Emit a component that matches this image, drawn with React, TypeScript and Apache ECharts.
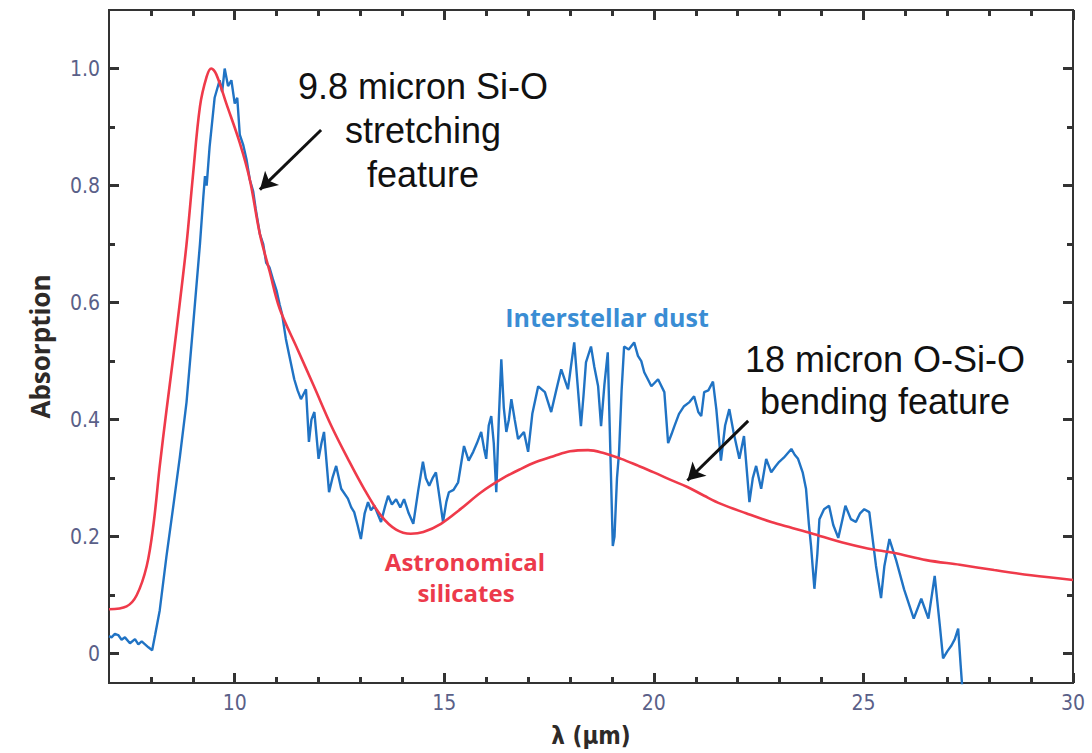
import React, { useEffect, useRef } from "react";
import * as echarts from "echarts";

// Axis ticks / labels
const xMajorTicks = [10, 15, 20, 25, 30];
const xMinorTicks = [8, 9, 11, 12, 13, 14, 16, 17, 18, 19, 21, 22, 23, 24, 26, 27, 28, 29];
const yMajorTicks = [0, 0.2, 0.4, 0.6, 0.8, 1.0];
const yMinorTicks = [0.1, 0.3, 0.5, 0.7, 0.9];

// Interstellar dust spectrum (wavelength µm, absorption)
const dustData: [number, number][] = [
  [7.0, 0.03], [7.06, 0.028], [7.14, 0.034], [7.22, 0.032], [7.3, 0.024], [7.38, 0.028], [7.5, 0.018],
  [7.62, 0.025], [7.7, 0.016], [7.78, 0.021], [7.94, 0.011], [8.03, 0.006], [8.1, 0.032],
  [8.21, 0.074], [8.37, 0.166], [8.53, 0.25], [8.69, 0.336], [8.85, 0.43], [9.0, 0.555],
  [9.17, 0.7], [9.25, 0.78], [9.29, 0.816], [9.33, 0.8], [9.4, 0.866], [9.52, 0.95],
  [9.64, 0.98], [9.7, 0.96], [9.76, 1.0], [9.84, 0.97], [9.92, 0.98], [10.0, 0.94],
  [10.06, 0.95], [10.12, 0.887], [10.2, 0.87], [10.28, 0.845], [10.36, 0.81], [10.44, 0.79],
  [10.5, 0.76], [10.6, 0.717], [10.68, 0.7], [10.75, 0.668], [10.83, 0.66], [10.91, 0.64],
  [11.0, 0.62], [11.07, 0.597], [11.13, 0.58], [11.22, 0.538], [11.3, 0.51], [11.42, 0.469],
  [11.5, 0.45], [11.58, 0.435], [11.7, 0.452], [11.77, 0.362], [11.83, 0.4], [11.9, 0.413],
  [12.0, 0.333], [12.07, 0.36], [12.13, 0.379], [12.25, 0.276], [12.33, 0.3], [12.42, 0.321],
  [12.54, 0.282], [12.7, 0.265], [12.78, 0.25], [12.85, 0.242], [12.93, 0.22], [13.01, 0.196],
  [13.1, 0.24], [13.18, 0.259], [13.25, 0.245], [13.33, 0.253], [13.49, 0.225], [13.58, 0.25],
  [13.66, 0.27], [13.75, 0.255], [13.85, 0.264], [13.95, 0.25], [14.04, 0.264], [14.15, 0.24],
  [14.26, 0.222], [14.38, 0.28], [14.49, 0.328], [14.56, 0.3], [14.64, 0.287], [14.72, 0.3],
  [14.8, 0.31], [14.9, 0.26], [14.97, 0.225], [15.05, 0.26], [15.11, 0.276], [15.22, 0.28],
  [15.33, 0.293], [15.47, 0.355], [15.58, 0.33], [15.69, 0.345], [15.78, 0.36], [15.88, 0.379],
  [15.95, 0.35], [16.0, 0.333], [16.06, 0.39], [16.12, 0.406], [16.18, 0.36], [16.24, 0.276],
  [16.3, 0.4], [16.36, 0.503], [16.42, 0.42], [16.48, 0.379], [16.54, 0.4], [16.6, 0.435],
  [16.68, 0.4], [16.76, 0.367], [16.9, 0.379], [17.0, 0.345], [17.1, 0.41], [17.24, 0.457],
  [17.4, 0.447], [17.55, 0.413], [17.67, 0.45], [17.79, 0.486], [17.95, 0.452], [18.02, 0.49],
  [18.1, 0.532], [18.18, 0.46], [18.26, 0.389], [18.32, 0.44], [18.38, 0.498], [18.5, 0.525],
  [18.58, 0.49], [18.67, 0.457], [18.74, 0.389], [18.82, 0.46], [18.9, 0.515], [18.96, 0.35],
  [19.02, 0.184], [19.06, 0.2], [19.12, 0.3], [19.17, 0.345], [19.23, 0.45], [19.29, 0.525],
  [19.4, 0.52], [19.53, 0.532], [19.62, 0.509], [19.7, 0.5], [19.77, 0.481], [19.85, 0.47],
  [19.94, 0.457], [20.1, 0.469], [20.25, 0.447], [20.34, 0.36], [20.42, 0.375], [20.49, 0.389],
  [20.6, 0.41], [20.72, 0.423], [20.85, 0.43], [20.96, 0.44], [21.06, 0.413], [21.13, 0.406],
  [21.2, 0.447], [21.3, 0.45], [21.41, 0.465], [21.49, 0.418], [21.6, 0.33], [21.7, 0.39],
  [21.8, 0.418], [21.9, 0.379], [22.04, 0.333], [22.15, 0.372], [22.28, 0.259], [22.36, 0.3],
  [22.44, 0.321], [22.56, 0.282], [22.68, 0.333], [22.8, 0.31], [22.9, 0.32], [22.99, 0.328],
  [23.1, 0.335], [23.28, 0.35], [23.36, 0.34], [23.44, 0.333], [23.55, 0.31], [23.63, 0.282],
  [23.7, 0.22], [23.75, 0.184], [23.83, 0.111], [23.9, 0.17], [23.95, 0.23], [24.06, 0.247],
  [24.18, 0.253], [24.28, 0.22], [24.4, 0.198], [24.5, 0.23], [24.57, 0.253], [24.7, 0.23],
  [24.82, 0.225], [24.92, 0.24], [25.02, 0.247], [25.14, 0.242], [25.3, 0.15], [25.42, 0.095],
  [25.5, 0.15], [25.62, 0.196], [25.78, 0.16], [25.97, 0.11], [26.2, 0.06], [26.38, 0.094],
  [26.55, 0.06], [26.7, 0.133], [26.82, 0.05], [26.9, -0.008], [27.0, 0.004], [27.1, 0.014],
  [27.18, 0.025], [27.26, 0.043], [27.32, -0.02], [27.4, -0.1],
];

// Astronomical silicates model (wavelength µm, absorption)
const silicateData: [number, number][] = [
  [7.0, 0.076], [7.42, 0.081], [7.66, 0.1], [7.9, 0.15], [8.06, 0.22], [8.21, 0.32],
  [8.37, 0.415], [8.53, 0.505], [8.69, 0.6], [8.85, 0.7], [9.0, 0.815], [9.17, 0.935],
  [9.33, 0.986], [9.44, 1.0], [9.56, 0.99], [9.8, 0.94], [10.12, 0.873], [10.36, 0.81],
  [10.6, 0.717], [10.83, 0.654], [11.07, 0.59], [11.5, 0.52], [11.89, 0.457], [12.3, 0.39],
  [12.7, 0.333], [13.1, 0.28], [13.49, 0.236], [13.85, 0.212], [14.2, 0.205], [14.5, 0.208],
  [14.92, 0.222], [15.4, 0.248], [15.88, 0.276], [16.4, 0.3], [16.83, 0.316], [17.2, 0.328],
  [17.62, 0.338], [18.0, 0.346], [18.43, 0.348], [18.8, 0.343], [19.22, 0.333], [19.6, 0.322],
  [20.0, 0.31], [20.4, 0.297], [20.8, 0.285], [21.2, 0.27], [21.6, 0.256], [22.2, 0.24],
  [22.8, 0.225], [23.3, 0.215], [23.75, 0.206], [24.5, 0.19], [25.1, 0.18], [25.74, 0.172],
  [26.5, 0.16], [27.3, 0.152], [28.12, 0.143], [29.0, 0.134], [30.0, 0.126],
];

// Annotation arrows: [tail, head] in data coordinates
const stretchArrow: [number, number][] = [[12.06, 0.895], [10.6, 0.793]];
const bendArrow: [number, number][] = [[22.25, 0.398], [20.8, 0.296]];

const AXIS_COLOR = "#333333";
const TICK_LABEL_COLOR = "#5a6088";
const TICK_FONT = '"DejaVu Sans Condensed", "Liberation Sans Narrow", "Noto Sans", sans-serif';
const X_MIN = 7, X_MAX = 30, Y_MIN = -0.05, Y_MAX = 1.1;
const W = 1092, H = 753;
const GRID = { left: 109, right: 19, top: 10, bottom: 68 };
const MAJOR_LEN = 10, MINOR_LEN = 6;
const TICK_W = 3;

function tickAxis(kind: "x" | "y", position: string, ticks: number[], len: number, showLine: boolean) {
  return {
    type: "value",
    min: kind === "x" ? X_MIN : Y_MIN,
    max: kind === "x" ? X_MAX : Y_MAX,
    position,
    axisLine: { show: showLine, onZero: false, lineStyle: { color: AXIS_COLOR, width: 2 } },
    axisTick: { show: true, inside: true, length: len, customValues: ticks, lineStyle: { color: AXIS_COLOR, width: TICK_W } },
    axisLabel: { show: false },
    splitLine: { show: false },
  } as any;
}

export default function App() {
  const ref = useRef<HTMLDivElement>(null);
  useEffect(() => {
    document.body.style.margin = "0";
    if (!ref.current) return;
    const chart = echarts.init(ref.current, null, { renderer: "svg" });

    // tick segments (data coordinates) built from the tick arrays
    const dxPerPx = (X_MAX - X_MIN) / (W - GRID.left - GRID.right);
    const dyPerPx = (Y_MAX - Y_MIN) / (H - GRID.top - GRID.bottom);
    const tickSegments: any[] = [];
    const addX = (v: number, len: number) => {
      tickSegments.push([{ coord: [v, Y_MIN] }, { coord: [v, Y_MIN + len * dyPerPx] }]);
      tickSegments.push([{ coord: [v, Y_MAX] }, { coord: [v, Y_MAX - len * dyPerPx] }]);
    };
    const addY = (v: number, len: number) => {
      tickSegments.push([{ coord: [X_MIN, v] }, { coord: [X_MIN + len * dxPerPx, v] }]);
      tickSegments.push([{ coord: [X_MAX, v] }, { coord: [X_MAX - len * dxPerPx, v] }]);
    };
    xMajorTicks.forEach((v) => addX(v, MAJOR_LEN));
    xMinorTicks.forEach((v) => addX(v, MINOR_LEN));
    yMajorTicks.forEach((v) => addY(v, MAJOR_LEN));
    yMinorTicks.forEach((v) => addY(v, MINOR_LEN));

    const mainX = tickAxis("x", "bottom", xMajorTicks, MAJOR_LEN, true);
    mainX.axisLabel = { show: true, customValues: xMajorTicks, color: TICK_LABEL_COLOR, fontSize: 21, fontFamily: TICK_FONT, margin: 9 };
    mainX.name = "\u03bb (\u00b5m)";
    mainX.nameLocation = "middle";
    mainX.nameGap = 41;
    mainX.nameTextStyle = { fontSize: 24, fontWeight: "bold", color: "#2e2a28", fontFamily: TICK_FONT };

    const mainY = tickAxis("y", "left", yMajorTicks, MAJOR_LEN, true);
    mainY.axisLabel = {
      show: true,
      customValues: yMajorTicks,
      color: TICK_LABEL_COLOR,
      fontSize: 21,
      fontFamily: TICK_FONT,
      margin: 9,
      formatter: (v: number) => (Math.abs(v) < 1e-9 ? "0" : v.toFixed(1)),
    };
    mainY.name = "Absorption";
    mainY.nameLocation = "middle";
    mainY.nameRotate = 90;
    mainY.nameGap = 56;
    mainY.nameTextStyle = { fontSize: 26, fontWeight: "bold", color: "#2e2a28", fontFamily: '"Open Sans", "Noto Sans", sans-serif' };

    chart.setOption({
      animation: false,
      grid: {
        ...GRID, containLabel: false,
        show: true, borderColor: AXIS_COLOR, borderWidth: 2,
      },
      xAxis: [
        mainX,
        tickAxis("x", "top", xMajorTicks, MAJOR_LEN, true),
      ],
      yAxis: [
        mainY,
        tickAxis("y", "right", yMajorTicks, MAJOR_LEN, true),
      ],
      series: [
        {
          name: "Interstellar dust",
          type: "line",
          xAxisIndex: 0,
          yAxisIndex: 0,
          data: dustData,
          showSymbol: false,
          clip: true,
          lineStyle: { color: "#2073c4", width: 2.4 },
          z: 2,
          markLine: {
            silent: true,
            symbol: ["none", "none"],
            label: { show: false },
            lineStyle: { color: AXIS_COLOR, width: TICK_W, type: "solid", opacity: 1 },
            data: tickSegments,
          },
        },
        {
          name: "Astronomical silicates",
          type: "line",
          xAxisIndex: 0,
          yAxisIndex: 0,
          data: silicateData,
          showSymbol: false,
          smooth: 0.35,
          clip: true,
          lineStyle: { color: "#ef3a4a", width: 2.6 },
          z: 3,
          markLine: {
            silent: true,
            symbol: ["none", "arrow"],
            symbolSize: [15, 17],
            label: { show: false },
            lineStyle: { color: "#111111", width: 3, type: "solid" },
            data: [
              [{ coord: stretchArrow[0] }, { coord: stretchArrow[1] }],
              [{ coord: bendArrow[0] }, { coord: bendArrow[1] }],
            ],
          },
        },
      ],
      graphic: [
        {
          type: "text",
          x: 423,
          y: 130,
          style: {
            text: "9.8 micron Si-O\nstretching\nfeature",
            fontSize: 36,
            lineHeight: 44,
            fontFamily: '"Liberation Sans", Arial, sans-serif',
            fill: "#111111",
            textAlign: "center",
            textVerticalAlign: "middle",
          },
        },
        {
          type: "text",
          x: 885,
          y: 380,
          style: {
            text: "18 micron O-Si-O\nbending feature",
            fontSize: 36,
            lineHeight: 42,
            fontFamily: '"Liberation Sans", Arial, sans-serif',
            fill: "#111111",
            textAlign: "center",
            textVerticalAlign: "middle",
          },
        },
        {
          type: "text",
          x: 607,
          y: 317,
          style: {
            text: "Interstellar dust",
            fontSize: 25,
            fontWeight: "bold",
            fontFamily: '"Open Sans", "Noto Sans", sans-serif',
            fill: "#3a8dd4",
            textAlign: "center",
            textVerticalAlign: "middle",
          },
        },
        {
          type: "text",
          x: 465,
          y: 561,
          style: {
            text: "Astronomical",
            fontSize: 24,
            fontWeight: "bold",
            fontFamily: '"Open Sans", "Noto Sans", sans-serif',
            fill: "#ec3a4b",
            textAlign: "center",
            textVerticalAlign: "middle",
          },
        },
        {
          type: "text",
          x: 466,
          y: 592,
          style: {
            text: "silicates",
            fontSize: 24,
            fontWeight: "bold",
            fontFamily: '"Open Sans", "Noto Sans", sans-serif',
            fill: "#ec3a4b",
            textAlign: "center",
            textVerticalAlign: "middle",
          },
        },
      ],
    });
    return () => chart.dispose();
  }, []);
  return <div ref={ref} style={{ width: W, height: H }} />;
}
